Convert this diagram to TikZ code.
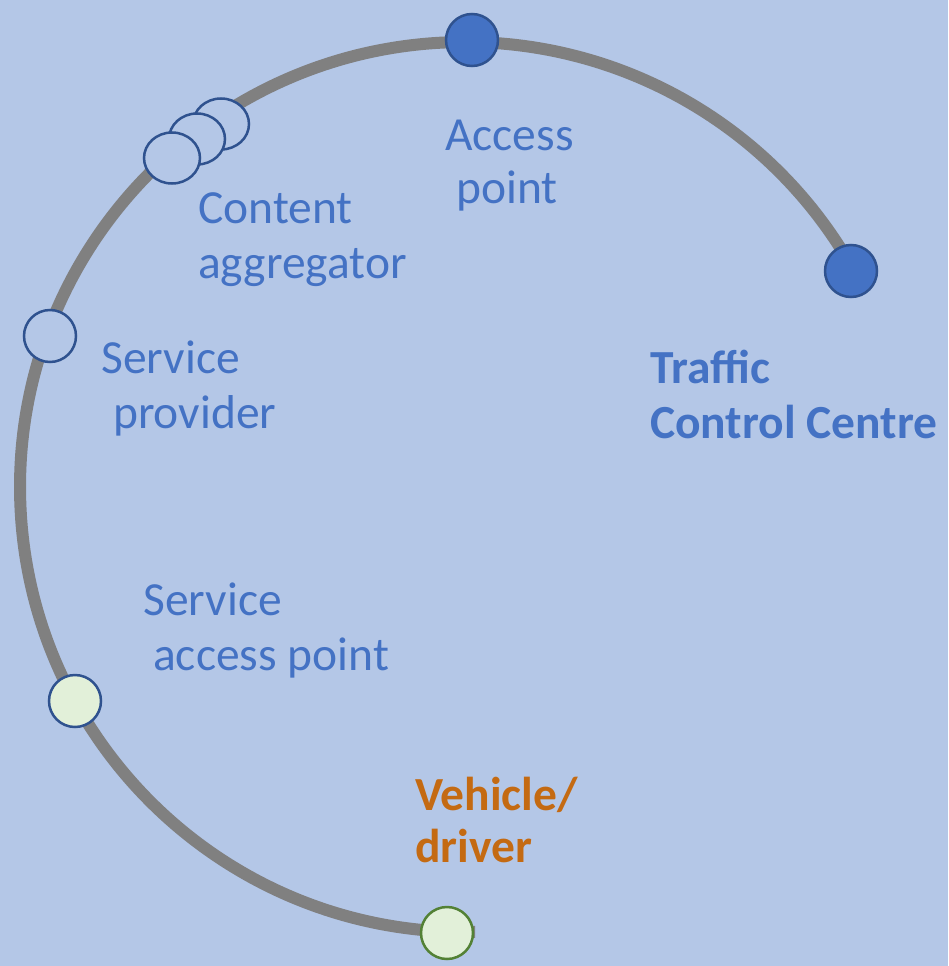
\documentclass[tikz,border=0pt]{standalone}
\usepackage{fontspec}
\setmainfont{Carlito}
\definecolor{bg}{HTML}{B4C7E7}
\definecolor{ringgray}{HTML}{808080}
\definecolor{dblue}{HTML}{4472C4}
\definecolor{bblue}{HTML}{2F528F}
\definecolor{lgreen}{HTML}{E2F0D9}
\definecolor{dgreen}{HTML}{538135}
\definecolor{orng}{HTML}{C46A12}
\tikzset{
  dot/.style={circle, inner sep=0pt, minimum size=52pt, line width=2.5pt, draw=bblue},
  fulldot/.style={dot, fill=dblue},
  hollowdot/.style={dot, fill=bg},
  greendot/.style={dot, fill=lgreen},
  vehdot/.style={dot, fill=lgreen, draw=dgreen},
  agg/.style={ellipse, inner sep=0pt, minimum width=56pt, minimum height=51pt, line width=2.5pt, draw=bblue, fill=bg},
  lbl/.style={anchor=base west, inner sep=0pt, text=dblue, font=\fontsize{47.5}{55}\selectfont},
  blbl/.style={lbl, font=\fontsize{47.5}{55}\selectfont\bfseries},
  olbl/.style={blbl, text=orng}
}
\usetikzlibrary{shapes.geometric}
\begin{document}
\begin{tikzpicture}[x=1pt,y=-1pt]
\fill[bg] (0,0) rectangle (948,966);
\useasboundingbox (0,0) rectangle (948,966);
% ring
\coordinate (ctr) at (465,487);
\draw[ringgray, line width=12pt] ([shift={(88.7:445)}]ctr) arc[start angle=88.7, end angle=330.8, radius=445];
% dots
\node[fulldot] (acc) at (472,40) {};
\node[fulldot] (tcc) at (851,271) {};
\node[vehdot] (veh) at (447,933) {};
\node[hollowdot] (sp) at (50,336) {};
\node[greendot] (sap) at (75,701) {};
\node[agg] (ca3) at (221,124) {};
\node[agg] (ca2) at (197,139) {};
\node[agg] (ca1) at (172,158) {};
% labels
\node[lbl] (acct1) at (445,150) {Access};
\node[lbl] (acct2) at (456,203) {point};
\node[lbl] (cat1) at (198,223) {Content};
\node[lbl] (cat2) at (198,278) {aggregator};
\node[lbl] (spt1) at (101,373) {Service};
\node[lbl] (spt2) at (113,428) {provider};
\node[lbl] (sapt1) at (143,615) {Service};
\node[lbl] (sapt2) at (153,670) {access point};
\node[blbl] (tcct1) at (650,383) {Traffic};
\node[blbl] (tcct2) at (650,438) {Control Centre};
\node[olbl] (veht1) at (415,810) {Vehicle/};
\node[olbl] (veht2) at (415,862) {driver};
\end{tikzpicture}
\end{document}
